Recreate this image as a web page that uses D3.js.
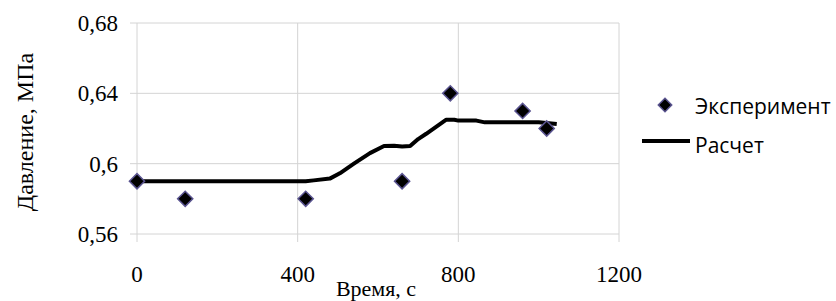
<!DOCTYPE html>
<html>
<head>
<meta charset="utf-8">
<script src="https://cdn.jsdelivr.net/npm/d3@7"></script>
<style>
  body { margin: 0; background: #fff; }
  svg { display: block; }
</style>
</head>
<body>
<div id="graph"></div>
<script>
// Data
const expTime = [0, 120, 420, 660, 780, 960, 1020]
const expPressure = [0.59, 0.58, 0.58, 0.59, 0.64, 0.63, 0.62]

const calcTime = [0, 420, 440, 480, 505, 540, 580, 615, 640, 660, 680, 700, 720, 770, 790, 800, 845, 866, 1000, 1045]
const calcPressure = [0.59, 0.59, 0.5905, 0.5915, 0.5945, 0.600, 0.606, 0.610, 0.6102, 0.6098, 0.610, 0.614, 0.617, 0.625, 0.625, 0.6245, 0.6245, 0.6235, 0.6235, 0.6225]

const xTicks = [0, 400, 800, 1200]
const yTicks = [0.56, 0.6, 0.64, 0.68]
const legendLabels = ['Эксперимент', 'Расчет']

const W = 836, H = 301
const plot = { left: 137, right: 619, top: 23, bottom: 234 }
const SERIF = "'Liberation Serif', serif"
const SANS = "'Open Sans', 'Noto Sans', sans-serif"

const svg = d3.select('#graph')
  .append('svg')
  .attr('width', W)
  .attr('height', H)

const x = d3.scaleLinear().domain([0, 1200]).range([plot.left, plot.right])
const y = d3.scaleLinear().domain([0.56, 0.68]).range([plot.bottom, plot.top])

const fmt = d => d3.format('.2~f')(d).replace('.', ',')

// Gridlines (with short tick overhang)
svg.append('g')
  .selectAll('line')
  .data(yTicks)
  .join('line')
  .attr('x1', plot.left - 7).attr('x2', plot.right)
  .attr('y1', d => y(d)).attr('y2', d => y(d))
  .attr('stroke', '#d4d4d4').attr('stroke-width', 1)

svg.append('g')
  .selectAll('line')
  .data(xTicks)
  .join('line')
  .attr('x1', d => x(d)).attr('x2', d => x(d))
  .attr('y1', plot.top).attr('y2', plot.bottom + 8)
  .attr('stroke', '#d4d4d4').attr('stroke-width', 1)

// Tick labels
svg.append('g')
  .selectAll('text')
  .data(yTicks)
  .join('text')
  .attr('x', 118)
  .attr('y', d => y(d) + 8)
  .attr('text-anchor', 'end')
  .style('font-family', SERIF)
  .style('font-size', '23px')
  .text(fmt)

svg.append('g')
  .selectAll('text')
  .data(xTicks)
  .join('text')
  .attr('x', d => x(d))
  .attr('y', 282)
  .attr('text-anchor', 'middle')
  .style('font-family', SERIF)
  .style('font-size', '23px')
  .text(d => d)

// Axis titles
svg.append('text')
  .attr('x', 376)
  .attr('y', 296)
  .attr('text-anchor', 'middle')
  .style('font-family', SERIF)
  .style('font-size', '22px')
  .text('Время, с')

svg.append('text')
  .attr('transform', 'translate(33,132) rotate(-90)')
  .attr('text-anchor', 'middle')
  .style('font-family', SERIF)
  .style('font-size', '24px')
  .text('Давление, МПа')

// Calculated line
const calcData = calcTime.map((t, i) => ({ t: t, p: calcPressure[i] }))
svg.append('path')
  .datum(calcData)
  .attr('fill', 'none')
  .attr('stroke', '#000')
  .attr('stroke-width', 4)
  .attr('stroke-linejoin', 'round')
  .attr('d', d3.line()
    .x(d => x(d.t))
    .y(d => y(d.p))
  )

// Experiment points
const diamond = d3.symbol().type(d3.symbolSquare).size(115)
const expData = expTime.map((t, i) => ({ t: t, p: expPressure[i] }))
svg.append('g')
  .selectAll('path')
  .data(expData)
  .join('path')
  .attr('d', diamond)
  .attr('transform', d => 'translate(' + x(d.t) + ',' + y(d.p) + ') rotate(45)')
  .attr('fill', '#000')
  .attr('stroke', '#5a5490')
  .attr('stroke-width', 1.5)

// Legend
const legend = svg.append('g')
legend.append('path')
  .attr('d', d3.symbol().type(d3.symbolSquare).size(90))
  .attr('transform', 'translate(665,105) rotate(45)')
  .attr('fill', '#000')
  .attr('stroke', '#5a5490')
  .attr('stroke-width', 1.5)
legend.append('line')
  .attr('x1', 642).attr('x2', 690)
  .attr('y1', 141).attr('y2', 141)
  .attr('stroke', '#000').attr('stroke-width', 4)

legend.selectAll('text')
  .data(legendLabels)
  .join('text')
  .attr('x', 695)
  .attr('y', (d, i) => i === 0 ? 114 : 153)
  .style('font-family', SANS)
  .style('font-size', '21px')
  .text(d => d)
</script>
</body>
</html>
